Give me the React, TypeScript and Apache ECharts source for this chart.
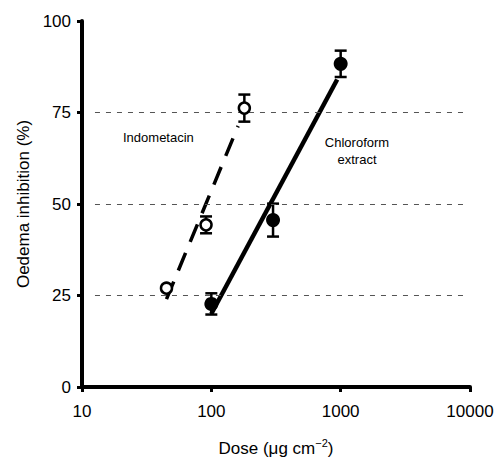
import React, { useEffect, useRef } from "react";
import * as echarts from "echarts";

// Data
const xTicks = [10, 100, 1000, 10000];
const yTicks = [0, 25, 50, 75, 100];
const gridLevels = [25, 50, 75];

const indoDose = [45, 91, 180];
const indoMean = [27, 44.3, 76.2];
const indoErr = [0, 2.3, 3.7];
const indoFit = [
  [45, 24],
  [161, 71.3],
];

const chloDose = [100, 300, 1000];
const chloMean = [22.7, 45.6, 88.3];
const chloErr = [2.9, 4.5, 3.6];
const chloFit = [
  [100, 20],
  [940, 84],
];

const gridLineFrom = 12.6;
const gridLineTo = 9500;

const FONT = "Liberation Sans, Arial, Helvetica, sans-serif";

export default function App() {
  const ref = useRef<HTMLDivElement>(null);
  useEffect(() => {
    if (!ref.current) return;
    const chart = echarts.init(ref.current, null, { renderer: "svg" });

    const errData = [
      ...indoDose.map((d, i) => [d, indoMean[i], indoErr[i]]),
      ...chloDose.map((d, i) => [d, chloMean[i], chloErr[i]]),
    ];

    const option: any = {
      animation: false,
      backgroundColor: "#ffffff",
      textStyle: { fontFamily: FONT, color: "#000" },
      grid: { left: 82, right: 27, top: 21, bottom: 70, outerBoundsMode: "none", containLabel: false },
      xAxis: {
        type: "log",
        logBase: 10,
        min: xTicks[0],
        max: xTicks[xTicks.length - 1],
        name: "{a|Dose (μg cm}{s|−2}{a|)}",
        nameLocation: "middle",
        nameGap: 50,
        nameTextStyle: {
          rich: {
            a: { fontSize: 17, fontFamily: FONT, color: "#000", lineHeight: 20, verticalAlign: "bottom" },
            s: { fontSize: 11, fontFamily: FONT, color: "#000", lineHeight: 20, verticalAlign: "top" },
          },
        },
        axisLine: { show: true, lineStyle: { color: "#000", width: 4 } },
        axisTick: { show: true, inside: false, length: 5, lineStyle: { color: "#000", width: 3 } },
        minorTick: { show: false },
        splitLine: { show: false },
        axisLabel: {
          margin: 16,
          fontSize: 17,
          color: "#000",
          fontFamily: FONT,
          formatter: (v: number) => String(Math.round(v)),
        },
      },
      yAxis: {
        type: "value",
        min: yTicks[0],
        max: yTicks[yTicks.length - 1],
        interval: 25,
        name: "Oedema inhibition (%)",
        nameLocation: "middle",
        nameGap: 50,
        nameTextStyle: { fontSize: 17, color: "#000", fontFamily: FONT },
        axisLine: { show: true, lineStyle: { color: "#000", width: 4 } },
        axisTick: { show: true, inside: false, length: 5, lineStyle: { color: "#000", width: 3 } },
        splitLine: { show: false },
        axisLabel: { margin: 11, fontSize: 17, color: "#000", fontFamily: FONT },
      },
      graphic: [
        {
          type: "text",
          left: 123,
          top: 131,
          style: { text: "Indometacin", fontSize: 13, fontFamily: FONT, fill: "#000" },
        },
        {
          type: "text",
          x: 357,
          y: 134,
          style: {
            text: "Chloroform\nextract",
            fontSize: 13,
            lineHeight: 17,
            fontFamily: FONT,
            fill: "#000",
            align: "center",
          },
        },
      ],
      series: [
        {
          type: "line",
          data: [],
          silent: true,
          markLine: {
            silent: true,
            symbol: "none",
            label: { show: false },
            lineStyle: { color: "#555", width: 1, type: [5, 6], opacity: 1 },
            data: gridLevels.map((v) => [
              { coord: [gridLineFrom, v] },
              { coord: [gridLineTo, v] },
            ]),
          },
        },
        {
          type: "line",
          data: indoFit,
          symbol: "none",
          lineStyle: { color: "#000", width: 3.5, type: [19, 12], opacity: 1 },
          z: 2,
        },
        {
          type: "line",
          data: chloFit,
          symbol: "none",
          lineStyle: { color: "#000", width: 4.5, opacity: 1 },
          z: 2,
        },
        {
          type: "custom",
          data: errData,
          z: 3,
          renderItem: (params: any, api: any) => {
            const x = api.value(0);
            const y = api.value(1);
            const e = api.value(2);
            if (!e) return { type: "group", children: [] };
            const top = api.coord([x, y + e]);
            const bot = api.coord([x, y - e]);
            const w = 6;
            const st = { stroke: "#000", lineWidth: 2.5 };
            return {
              type: "group",
              children: [
                { type: "line", shape: { x1: top[0], y1: top[1], x2: bot[0], y2: bot[1] }, style: st },
                { type: "line", shape: { x1: top[0] - w, y1: top[1], x2: top[0] + w, y2: top[1] }, style: st },
                { type: "line", shape: { x1: bot[0] - w, y1: bot[1], x2: bot[0] + w, y2: bot[1] }, style: st },
              ],
            };
          },
        },
        {
          type: "scatter",
          data: indoDose.map((d, i) => [d, indoMean[i]]),
          symbol: "circle",
          symbolSize: 11,
          itemStyle: { color: "#fff", borderColor: "#000", borderWidth: 2.5, opacity: 1 },
          z: 5,
        },
        {
          type: "scatter",
          data: chloDose.map((d, i) => [d, chloMean[i]]),
          symbol: "circle",
          symbolSize: 14,
          itemStyle: { color: "#000", opacity: 1 },
          z: 5,
        },
      ],
    };
    chart.setOption(option);
    return () => chart.dispose();
  }, []);
  return (
    <div
      ref={ref}
      style={{ position: "absolute", left: 0, top: 0, width: 497, height: 457 }}
    />
  );
}
